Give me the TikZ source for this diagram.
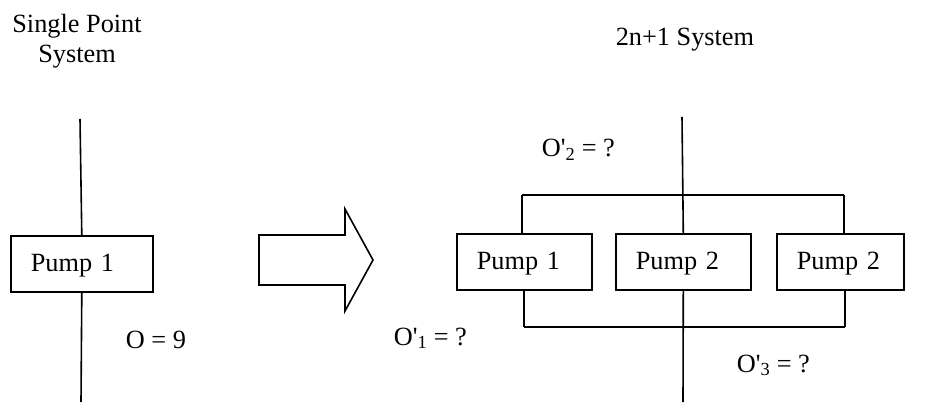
\documentclass[tikz,border=0pt]{standalone}
\usepackage{fontspec}
\setmainfont{Liberation Serif}
\begin{document}
\begin{tikzpicture}[x=1pt,y=-1pt, line width=1.6pt,
  lbl/.style={anchor=base west, inner sep=0pt, font=\fontsize{26.3}{31}\selectfont},
  ttl/.style={anchor=base, inner sep=0pt, font=\fontsize{26.3}{31}\selectfont},
  pumpbox/.style={draw, anchor=north west, minimum height=56pt, inner xsep=20pt, inner ysep=0pt,
    align=left, text height=19pt, text depth=3pt, font=\fontsize{26.3}{31}\selectfont}]
\useasboundingbox (0,0) rectangle (931,403);

% titles
\node[ttl] (t1a) at (77,33) {Single Point};
\node[ttl] (t1b) at (77,63) {System};
\node[lbl] (t2) at (615,46) {2n+1 System};

% left system
\node[pumpbox, text width=102pt] (p0) at (10,235) {Pump 1};
\coordinate (lt) at (80,119);
\coordinate (lbot) at (81,402);
\draw (lt) -- (p0.north);
\draw (p0.south) -- (lbot);
\node[lbl] (o0) at (125,348) {O = 9};

% big arrow
\draw (259,235) -- (345,235) -- (345,209) -- (373,260) -- (345,311) -- (345,285) -- (259,285) -- cycle;

% right system
\node[pumpbox, text width=95pt] (b1) at (456,233) {Pump 1};
\node[pumpbox, text width=95pt] (b2) at (615,233) {Pump 2};
\node[pumpbox, text width=87pt] (b3) at (776,233) {Pump 2};

\coordinate (tt) at (682,117);
\coordinate (ta) at (522,195);
\coordinate (tc) at (844,195);
\draw (tt) -- (b2.north);
\draw (ta) -- (tc);
\draw (ta) -- (ta |- b1.north);
\draw (tc) -- (tc |- b3.north);

\coordinate (ba) at (524,327);
\coordinate (bc) at (845,327);
\coordinate (bb) at (683,402);
\draw (b2.south) -- (bb);
\draw (ba) -- (bc);
\draw (ba |- b1.south) -- (ba);
\draw (bc |- b3.south) -- (bc);

\node[lbl] (o2) at (541,157) {O\textquotesingle\textsubscript{2} = ?};
\node[lbl] (o1) at (393,345) {O\textquotesingle\textsubscript{1} = ?};
\node[lbl] (o3) at (736,372) {O\textquotesingle\textsubscript{3} = ?};
\end{tikzpicture}
\end{document}
